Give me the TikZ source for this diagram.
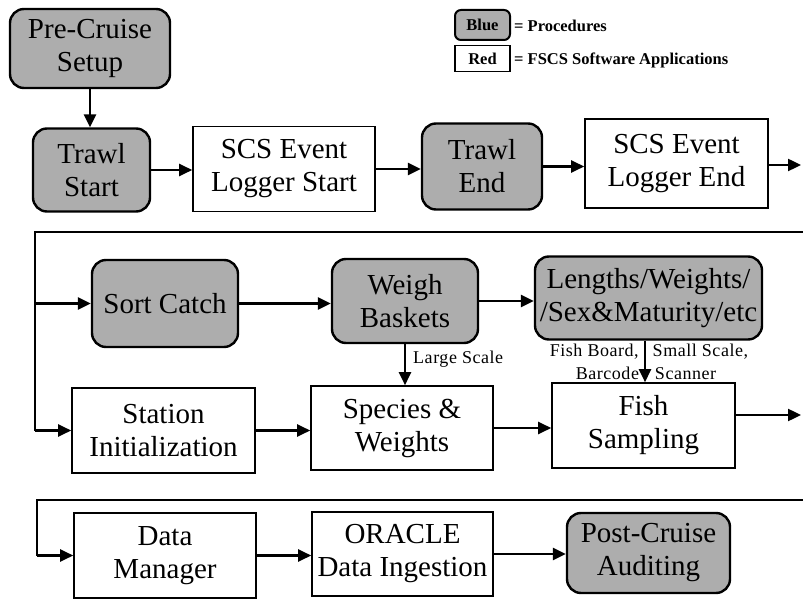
\documentclass[tikz,border=0pt]{standalone}
\usepackage{fontspec}
\setmainfont{Liberation Serif}
\newfontfamily\lblfont[LetterSpace=3]{Liberation Serif}
\usetikzlibrary{arrows.meta,calc}
\definecolor{procfill}{gray}{0.68}
\tikzset{
  proc/.style={draw=black, line width=2.4pt, rounded corners=14pt, fill=procfill,
    align=center, inner sep=0pt, font=\fontsize{29}{33}\selectfont},
  app/.style={draw=black, line width=1.6pt, fill=white,
    align=center, inner sep=0pt, font=\fontsize{29}{33}\selectfont},
  arr/.style={line width=2.4pt, -{Triangle[length=13pt,width=12pt]}},
  plain/.style={line width=2.4pt},
  lbl/.style={inner sep=0pt, font=\lblfont\fontsize{18}{20}\selectfont},
  leg/.style={inner sep=0pt, font=\bfseries\fontsize{16.5}{18}\selectfont},
}
\begin{document}
\begin{tikzpicture}[x=1pt,y=-1pt]
\useasboundingbox (0,0) rectangle (803,601);
% legend
\node[proc, line width=2pt, rounded corners=6pt, minimum width=55pt, minimum height=30pt, font=\bfseries\fontsize{16.5}{18}\selectfont] (lb) at (482.5,25) {Blue};
\node[app, line width=1.4pt, minimum width=55pt, minimum height=26pt, font=\bfseries\fontsize{16.5}{18}\selectfont] (lr) at (482.5,58.5) {Red};
\node[leg, anchor=west] (lbt) at (514,26) {= Procedures};
\node[leg, anchor=west] (lrt) at (514,60) {= FSCS Software Applications};
% row 1
\node[proc, minimum width=160pt, minimum height=79pt] (pre) at (90,48.5) {Pre-Cruise\\Setup};
\node[proc, minimum width=117pt, minimum height=83pt] (ts) at (91.5,170) {Trawl\\Start};
\node[app, minimum width=182pt, minimum height=85pt] (ls) at (284,169) {SCS Event\\Logger Start};
\node[proc, minimum width=120pt, minimum height=86pt] (te) at (482,166.5) {Trawl\\End};
\node[app, minimum width=183pt, minimum height=89pt] (le) at (676.5,163.5) {SCS Event\\Logger End};
% row 2
\node[proc, minimum width=146pt, minimum height=87pt] (sc) at (165,303.5) {Sort Catch};
\node[proc, minimum width=146pt, minimum height=84pt] (wb) at (405,301) {Weigh\\Baskets};
\node[proc, minimum width=227pt, minimum height=83pt] (lw) at (648.5,298) {Lengths/Weights/\\/Sex\&Maturity/etc};
% row 3
\node[app, minimum width=183pt, minimum height=85pt] (si) at (163.5,430.5) {Station\\Initialization};
\node[app, minimum width=182pt, minimum height=84pt] (sw) at (402,428) {Species \&\\Weights};
\node[app, minimum width=183pt, minimum height=85pt] (fs) at (643.5,425.5) {Fish\\Sampling};
% row 4
\node[app, minimum width=182pt, minimum height=85pt] (dm) at (165,555.5) {Data\\Manager};
\node[app, minimum width=181pt, minimum height=84pt] (or) at (402.5,554) {ORACLE\\Data Ingestion};
\node[proc, minimum width=163pt, minimum height=80pt] (pc) at (648.5,553) {Post-Cruise\\Auditing};
% labels
\node[lbl, anchor=west] (lsl) at (413,359) {Large Scale};
\node[lbl] (fbl) at (649,352) {Fish Board,\hspace{14pt}Small Scale,};
\node[lbl] (bcl) at (646,373) {Barcode\hspace{16pt}Scanner};
% edge coordinates
\coordinate (e1) at (801,165);
\coordinate (r1) at (803,232);
\coordinate (l1) at (35,232);
\coordinate (e2) at (801,415);
\coordinate (r2) at (803,500);
\coordinate (l2) at (37,500);
% connectors row 1
\draw[arr] (pre.south) -- (pre.south |- ts.north);
\draw[arr] (ts.east) -- (ts.east -| ls.west);
\draw[arr] (ls.east) -- (ls.east -| te.west);
\draw[arr] (te.east) -- (te.east -| le.west);
\draw[arr] (le.east |- e1) -- (e1);
% loop to row 2/3
\draw[plain] (r1) -- (l1) -- (l1 |- si.west);
\draw[arr] (l1 |- si.west) -- (si.west);
\draw[arr] (l1 |- sc.west) -- (sc.west);
\draw[arr] (sc.east) -- (sc.east -| wb.west);
\draw[arr] (wb.east) -- (wb.east -| lw.west);
\draw[arr] (wb.south) -- (wb.south |- sw.north);
\draw[arr] ($(lw.south)+(-3.5,0)$) -- ($(lw.south |- fs.north)+(-3.5,0)$);
\draw[arr] (si.east) -- (si.east -| sw.west);
\draw[arr] (sw.east) -- (sw.east -| fs.west);
\draw[arr] (fs.east |- e2) -- (e2);
% loop to row 4
\draw[plain] (r2) -- (l2) -- (l2 |- dm.west);
\draw[arr] (l2 |- dm.west) -- (dm.west);
\draw[arr] (dm.east) -- (dm.east -| or.west);
\draw[arr] (or.east) -- (or.east -| pc.west);
\end{tikzpicture}
\end{document}
